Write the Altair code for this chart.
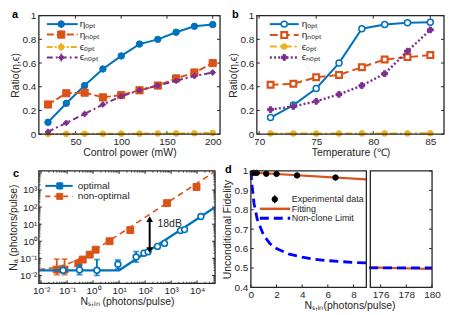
import math
import altair as alt
import pandas as pd

FONT = "Liberation Sans"
INK = "#262626"
BLUE = "#0072BD"
ORANGE = "#D95319"
YELLOW = "#EDB120"
PURPLE = "#7E2F8E"
NCL = "#0000FF"

# ---------------- data ----------------
# panel a
a_power = [20, 40, 60, 80, 100, 120, 140, 160, 180, 200]
a_eta_opt = [0.10, 0.26, 0.41, 0.55, 0.66, 0.76, 0.80, 0.86, 0.91, 0.925]
a_eta_nopt = [0.25, 0.345, 0.35, 0.31, 0.33, 0.37, 0.41, 0.47, 0.52, 0.60]
a_eps_opt = [0.002, 0.002, 0.003, 0.003, 0.004, 0.004, 0.005, 0.006, 0.007, 0.010]
a_eps_nopt = [0.02, 0.095, 0.17, 0.25, 0.32, 0.37, 0.41, 0.45, 0.49, 0.52]
a_xdomain = [10, 208]
a_xticks = [50, 100, 150, 200]

# panel b
b_temp = [71, 73, 75, 77, 79, 81, 83, 85]
b_eta_opt = [0.14, 0.245, 0.385, 0.60, 0.89, 0.925, 0.94, 0.945]
b_eta_nopt = [0.417, 0.425, 0.48, 0.50, 0.565, 0.63, 0.65, 0.667]
b_eps_opt = [0.005, 0.005, 0.005, 0.005, 0.006, 0.006, 0.006, 0.007]
b_eps_nopt = [0.207, 0.234, 0.277, 0.336, 0.41, 0.51, 0.70, 0.88]
b_xdomain = [69.8, 86.2]
b_xticks = [70, 75, 80, 85]

ratio_domain = [0, 1]
ratio_ticks = [0, 0.2, 0.4, 0.6, 0.8, 1.0]
series_labels = ["ηₒₚₜ", "ηₙₒₚₜ", "ϵₒₚₜ", "ϵₙₒₚₜ"]

# panel c
c_opt_x = [0.07, 0.3, 1.4, 9, 45, 90, 130, 300, 560, 2300, 3300, 14000]
c_opt_y = [0.02, 0.021, 0.02, 0.045, 0.12, 0.2, 0.24, 0.5, 0.75, 4.2, 4.8, 28]
c_opt_eb_x = [0.07, 0.3, 1.4, 9, 45]
c_opt_eb_lo = [0.015, 0.011, 0.01, 0.024, 0.06]
c_opt_eb_hi = [0.028, 0.04, 0.085, 0.08, 0.25]
c_opt_fit_x = [0.0082, 10, 49000]
c_opt_fit_y = [0.02, 0.02, 98]
c_nopt_x = [0.04, 0.08, 0.27, 0.4, 0.74, 1.25, 4.3, 27, 700, 9500]
c_nopt_y = [0.022, 0.022, 0.05, 0.085, 0.165, 0.32, 1.0, 4.5, 170, 1500]
c_nopt_eb_x = [0.04, 0.08, 0.27, 0.4]
c_nopt_eb_lo = [0.011, 0.011, 0.04, 0.07]
c_nopt_eb_hi = [0.09, 0.09, 0.065, 0.1]
c_nopt_fit_x = [0.0082, 0.03, 0.1, 0.3, 1, 3, 10, 100, 1000, 10000, 49000]
c_nopt_fit_y = [0.022, 0.028, 0.045, 0.095, 0.27, 0.77, 2.5, 25, 250, 2500, 12300]
c_xdomain = [0.0082, 49000]
c_ydomain = [0.0034, 13000]
c_xticks = [0.01, 0.1, 1, 10, 100, 1000, 10000]
c_xlabels = ["10⁻²", "10⁻¹", "10⁰", "10¹", "10²", "10³", "10⁴"]
c_yticks = [0.01, 0.1, 1, 10, 100, 1000]
c_ylabels = ["10⁻²", "10⁻¹", "10⁰", "10¹", "10²", "10³"]
c_legend = ["optimal", "non-optimal"]
c_arrow_x = [150]
c_arrow_y = [0.3, 20]
c_note = "18dB"
c_note_x = 300
c_note_y = 10.5

# panel d
d_exp_x = [0.2, 0.45, 1.2, 2.0, 3.6, 6.6]
d_exp_y = [0.99, 0.99, 0.986, 0.985, 0.977, 0.966]
d_exp_err = [0.004, 0.004, 0.004, 0.004, 0.005, 0.005]
d_fit_left_x = [0, 9]
d_fit_left_y = [0.992, 0.957]
d_fit_right_x = [175.1, 180]
d_fit_right_y = [0.503, 0.495]
d_ncl_left_x = [0, 0.1, 0.25, 0.5, 1, 1.5, 2, 3, 4, 5, 6, 7, 8, 9]
d_ncl_left_y = [1.0, 0.92, 0.83, 0.75, 0.667, 0.625, 0.6, 0.571, 0.556, 0.545, 0.538, 0.533, 0.529, 0.526]
d_ncl_right_x = [175.1, 180]
d_ncl_right_y = [0.501, 0.501]
d_left_ticks = [0, 2, 4, 6, 8]
d_right_ticks = [176, 178, 180]
d_yticks = [0.4, 0.5, 0.6, 0.7, 0.8, 0.9, 1.0]
d_ydomain = [0.4, 1.0]
d_legend = ["Experimental data", "Fitting", "Non-clone Limit"]

# ---------------- layout ----------------
W_A, W_B, H_1 = 182, 188, 119
W_C, H_C = 177, 113
W_DL, GAP, W_DR, H_D = 116, 4, 62, 117
W_D = W_DL + GAP + W_DR
D_UNIT = W_DL / 9.0
D_VMAX = W_D / D_UNIT
D_OFF = d_right_ticks[-1] - D_VMAX  # virtual = real - D_OFF for right part

ONE = pd.DataFrame({"k": [0]})


def XE(field, scale, axis):
    return alt.X(field, type="quantitative", scale=scale, axis=axis)


def YE(field, scale, axis):
    return alt.Y(field, type="quantitative", scale=scale, axis=axis)


def series(df, xc, yc, xs, ys, xa, ya, color, dash=None, shape=None, size=30, fill=None,
           sw=2.0, psw=1.0, clip=False, line=True):
    base = alt.Chart(df).encode(x=XE(xc, xs, xa), y=YE(yc, ys, ya))
    out = []
    if line:
        lkw = dict(color=color, strokeWidth=sw)
        if dash:
            lkw["strokeDash"] = dash
        if clip:
            lkw["clip"] = True
        out.append(base.mark_line(**lkw))
    if shape:
        pkw = dict(shape=shape, size=size, filled=True, fill=fill or color,
                   stroke=color, strokeWidth=psw, opacity=1)
        if clip:
            pkw["clip"] = True
        out.append(base.mark_point(**pkw))
    return out


def inward(vals, ch, scale, axis, W, H, sides, L=3.0, sw=1.0):
    df = pd.DataFrame({"v": vals})
    out = []
    for side in sides:
        c = alt.Chart(df).mark_rule(color=INK, strokeWidth=sw)
        if ch == "x":
            y0, y1 = (H, H - L) if side == "bottom" else (0, L)
            out.append(c.encode(x=XE("v", scale, axis), y=alt.value(y0), y2=alt.value(y1)))
        else:
            x0, x1 = (0, L) if side == "left" else (W, W - L)
            out.append(c.encode(y=YE("v", scale, axis), x=alt.value(x0), x2=alt.value(x1)))
    return out


def frame(x0, x1, H):
    return alt.Chart(ONE).mark_rect(fill="transparent", stroke=INK, strokeWidth=1.3).encode(
        x=alt.value(x0), x2=alt.value(x1), y=alt.value(0), y2=alt.value(H))


def letter(t, x, y):
    return alt.Chart(ONE).mark_text(text=t, fontWeight="bold", fontSize=11, font=FONT,
                                    align="left", baseline="alphabetic", color="black").encode(
        x=alt.value(x), y=alt.value(y))


def legend_row(label, y, x0, x1, xm, xt, color, dash=None, shape=None, size=30,
               fill=None, sw=2.0, psw=1.0, ebar=0, fs=10):
    out = []
    if x1 > x0:
        rkw = dict(color=color, strokeWidth=sw)
        if dash:
            rkw["strokeDash"] = dash
        out.append(alt.Chart(ONE).mark_rule(**rkw).encode(
            x=alt.value(x0), x2=alt.value(x1), y=alt.value(y)))
    if ebar:
        out.append(alt.Chart(ONE).mark_rule(color=color, strokeWidth=1.3).encode(
            x=alt.value(xm), y=alt.value(y - ebar), y2=alt.value(y + ebar)))
    if shape:
        out.append(alt.Chart(ONE).mark_point(shape=shape, size=size, filled=True,
                                             fill=fill or color, stroke=color,
                                             strokeWidth=psw, opacity=1).encode(
            x=alt.value(xm), y=alt.value(y)))
    out.append(alt.Chart(ONE).mark_text(text=label, align="left", baseline="middle",
                                        fontSize=fs, font=FONT, color=INK).encode(
        x=alt.value(xt), y=alt.value(y)))
    return out


def label_expr(vals, labs):
    parts = [f"abs(log(datum.value)/LN10 - ({math.log10(v):.4f})) < 0.01 ? '{l}'"
             for v, l in zip(vals, labs)]
    return " : ".join(parts) + " : ''"


ratio_scale = alt.Scale(domain=ratio_domain, nice=False, zero=False)
ay_ratio = alt.Axis(values=ratio_ticks, format="~g", title="Ratio(η,ϵ)",
                    labelPadding=3, titlePadding=2)

# ---------------- panel a ----------------
xs_a = alt.Scale(domain=a_xdomain, nice=False, zero=False)
df_a = pd.DataFrame({"p": a_power, "eo": a_eta_opt, "en": a_eta_nopt,
                     "po": a_eps_opt, "pn": a_eps_nopt})
ax_a = alt.Axis(values=a_xticks, title="Control power (mW)", labelPadding=2, titlePadding=1)
a_styles = [
    dict(color=BLUE, shape="circle", size=42),
    dict(color=ORANGE, dash=[7, 3], shape="square", size=52),
    dict(color=YELLOW, dash=[6, 2, 2, 2], shape="circle", size=32),
    dict(color=PURPLE, dash=[6, 3, 2, 3], shape="diamond", size=34),
]
layers_a = []
layers_a += inward(a_xticks, "x", xs_a, ax_a, W_A, H_1, ["bottom", "top"])
layers_a += inward(ratio_ticks, "y", ratio_scale, ay_ratio, W_A, H_1, ["left", "right"])
for i, col in enumerate(["eo", "en", "po", "pn"]):
    layers_a += series(df_a, "p", col, xs_a, ratio_scale, ax_a, ay_ratio, **a_styles[i])
for i, yy in enumerate([8.5, 19, 31.5, 42]):
    st = a_styles[i]
    layers_a += legend_row(series_labels[i], yy, 8, 39, 22.5, 41, st["color"],
                           dash=st.get("dash"), shape=st["shape"], size=st["size"], ebar=4)
layers_a += [frame(0, W_A, H_1), letter("a", -27, 2)]
panel_a = alt.layer(*layers_a).properties(width=W_A, height=H_1)

# ---------------- panel b ----------------
xs_b = alt.Scale(domain=b_xdomain, nice=False, zero=False)
df_b = pd.DataFrame({"t": b_temp, "eo": b_eta_opt, "en": b_eta_nopt,
                     "po": b_eps_opt, "pn": b_eps_nopt})
ax_b = alt.Axis(values=b_xticks, title="Temperature (℃)", labelPadding=2, titlePadding=1)
b_styles = [
    dict(color=BLUE, shape="circle", size=36, fill="white", psw=1.5),
    dict(color=ORANGE, dash=[8, 4], shape="square", size=34, fill="white", psw=2.2),
    dict(color=YELLOW, dash=[7, 3, 2, 3], shape="circle", size=32),
    dict(color=PURPLE, dash=[2, 2.2], shape="cross", size=34, sw=2.4),
]
layers_b = []
layers_b += inward(b_xticks, "x", xs_b, ax_b, W_B, H_1, ["bottom", "top"])
layers_b += inward(ratio_ticks, "y", ratio_scale, ay_ratio, W_B, H_1, ["left", "right"])
for i, col in enumerate(["eo", "en", "po", "pn"]):
    layers_b += series(df_b, "t", col, xs_b, ratio_scale, ax_b, ay_ratio, **b_styles[i])
for i, yy in enumerate([8.5, 19.5, 31, 42]):
    st = b_styles[i]
    layers_b += legend_row(series_labels[i], yy, 13, 42, 27.5, 45, st["color"],
                           dash=st.get("dash"), shape=st["shape"], size=st["size"],
                           fill=st.get("fill"), sw=st.get("sw", 2.0), psw=st.get("psw", 1.0))
layers_b += [frame(0, W_B, H_1), letter("b", -25, 2)]
panel_b = alt.layer(*layers_b).properties(width=W_B, height=H_1)

# ---------------- panel c ----------------
xs_c = alt.Scale(type="log", domain=c_xdomain, nice=False)
ys_c = alt.Scale(type="log", domain=c_ydomain, nice=False)
ax_c = alt.Axis(values=c_xticks, labelExpr=label_expr(c_xticks, c_xlabels),
                title="Nₛ,ᵢₙ (photons/pulse)", labelPadding=2, titlePadding=1)
ay_c = alt.Axis(values=c_yticks, labelExpr=label_expr(c_yticks, c_ylabels),
                title="Nₐ (photons/pulse)", labelPadding=2, titlePadding=1)
minor_x = [m * 10.0 ** e for e in range(-3, 5) for m in range(2, 10)
           if c_xdomain[0] < m * 10.0 ** e < c_xdomain[1]]
minor_y = [m * 10.0 ** e for e in range(-3, 5) for m in range(2, 10)
           if c_ydomain[0] < m * 10.0 ** e < c_ydomain[1]]
df_c_opt = pd.DataFrame({"x": c_opt_x, "y": c_opt_y})
df_c_nopt = pd.DataFrame({"x": c_nopt_x, "y": c_nopt_y})
df_c_opt_fit = pd.DataFrame({"x": c_opt_fit_x, "y": c_opt_fit_y})
df_c_nopt_fit = pd.DataFrame({"x": c_nopt_fit_x, "y": c_nopt_fit_y})
df_c_opt_eb = pd.DataFrame({"x": c_opt_eb_x, "lo": c_opt_eb_lo, "hi": c_opt_eb_hi})
df_c_nopt_eb = pd.DataFrame({"x": c_nopt_eb_x, "lo": c_nopt_eb_lo, "hi": c_nopt_eb_hi})


def ebars(df, color, cap=6):
    base = alt.Chart(df)
    out = [base.mark_rule(color=color, strokeWidth=1.8).encode(
        x=XE("x", xs_c, ax_c), y=YE("lo", ys_c, ay_c), y2="hi:Q")]
    for f in ["lo", "hi"]:
        out.append(base.mark_tick(color=color, orient="horizontal", size=cap, thickness=1.8).encode(
            x=XE("x", xs_c, ax_c), y=YE(f, ys_c, ay_c)))
    return out


layers_c = []
layers_c += inward(c_xticks, "x", xs_c, ax_c, W_C, H_C, ["bottom", "top"])
layers_c += inward(c_yticks, "y", ys_c, ay_c, W_C, H_C, ["left", "right"])
layers_c += inward(minor_x, "x", xs_c, ax_c, W_C, H_C, ["bottom", "top"], L=1.7, sw=0.8)
layers_c += inward(minor_y, "y", ys_c, ay_c, W_C, H_C, ["left", "right"], L=1.7, sw=0.8)
layers_c += series(df_c_nopt_fit, "x", "y", xs_c, ys_c, ax_c, ay_c, ORANGE, dash=[6, 4], sw=1.6,
                   clip=True)
layers_c += ebars(df_c_nopt_eb, ORANGE)
layers_c += series(df_c_nopt, "x", "y", xs_c, ys_c, ax_c, ay_c, ORANGE, shape="square", size=48,
                   line=False)
layers_c += series(df_c_opt_fit, "x", "y", xs_c, ys_c, ax_c, ay_c, BLUE, sw=2.2, clip=True)
layers_c += ebars(df_c_opt_eb, BLUE)
layers_c += series(df_c_opt, "x", "y", xs_c, ys_c, ax_c, ay_c, BLUE, shape="circle", size=34,
                   fill="white", psw=1.6, line=False)
df_arrow = pd.DataFrame({"x": c_arrow_x * 2, "y": c_arrow_y})
layers_c.append(alt.Chart(df_arrow).mark_line(color="black", strokeWidth=2).encode(
    x=XE("x", xs_c, ax_c), y=YE("y", ys_c, ay_c)))
df_head = pd.DataFrame({"x": c_arrow_x * 2, "y": c_arrow_y, "s": ["triangle-down", "triangle-up"]})
layers_c.append(alt.Chart(df_head).mark_point(filled=True, color="black", size=45, opacity=1).encode(
    x=XE("x", xs_c, ax_c), y=YE("y", ys_c, ay_c),
    shape=alt.Shape("s:N", scale=None, legend=None)))
df_note = pd.DataFrame({"x": [c_note_x], "y": [c_note_y], "t": [c_note]})
layers_c.append(alt.Chart(df_note).mark_text(align="left", baseline="middle", fontSize=10.5,
                                             font=FONT, color=INK).encode(
    x=XE("x", xs_c, ax_c), y=YE("y", ys_c, ay_c), text="t:N"))
layers_c += legend_row(c_legend[0], 15, 6.5, 34, 21, 39, BLUE, shape="square", size=36, ebar=4)
layers_c += legend_row(c_legend[1], 25.5, 6.5, 34, 21, 39, ORANGE, dash=[5, 4], shape="square",
                       size=36, sw=1.6)
layers_c += [frame(0, W_C, H_C), letter("c", -26, 6)]
panel_c = alt.layer(*layers_c).properties(width=W_C, height=H_C)

# ---------------- panel d ----------------
xs_d = alt.Scale(domain=[0, D_VMAX + 0.01], nice=False, zero=False)
ys_d = alt.Scale(domain=d_ydomain, nice=False, zero=False)
d_xticks_v = d_left_ticks + [t - D_OFF for t in d_right_ticks]
ax_d = alt.Axis(values=d_xticks_v,
                labelExpr=f"datum.value > 9.05 ? format(datum.value + {D_OFF:.4f}, 'd') : format(datum.value, 'd')",
                title="Nₛ,ᵢₙ(photons/pulse)", titleX=W_D / 2 + 8, labelPadding=2, titlePadding=1)
ay_d = alt.Axis(values=d_yticks, format="~g", title="Unconditional Fidelity",
                labelPadding=3, titlePadding=2)
df_fit_l = pd.DataFrame({"x": d_fit_left_x, "y": d_fit_left_y})
df_fit_r = pd.DataFrame({"x": d_fit_right_x, "y": d_fit_right_y})
df_ncl_l = pd.DataFrame({"x": d_ncl_left_x, "y": d_ncl_left_y})
df_ncl_r = pd.DataFrame({"x": d_ncl_right_x, "y": d_ncl_right_y})
df_exp = pd.DataFrame({"x": d_exp_x, "y": d_exp_y, "e": d_exp_err})


def d_right(df):
    return alt.Chart(df).transform_calculate(xv=f"datum.x - {D_OFF:.4f}")


layers_d = []
layers_d += inward(d_xticks_v, "x", xs_d, ax_d, W_D, H_D, ["bottom"])
layers_d += inward(d_yticks, "y", ys_d, ay_d, W_D, H_D, ["left", "right"])
layers_d += series(df_ncl_l, "x", "y", xs_d, ys_d, ax_d, ay_d, NCL, dash=[9, 5], sw=2.8)
layers_d += series(df_fit_l, "x", "y", xs_d, ys_d, ax_d, ay_d, ORANGE, sw=2.2)
layers_d.append(d_right(df_fit_r).mark_line(color=ORANGE, strokeWidth=2.2).encode(
    x=XE("xv", xs_d, ax_d), y=YE("y", ys_d, ay_d)))
layers_d.append(d_right(df_ncl_r).mark_line(color=NCL, strokeWidth=2.8, strokeDash=[9, 5]).encode(
    x=XE("xv", xs_d, ax_d), y=YE("y", ys_d, ay_d)))
layers_d.append(alt.Chart(df_exp).transform_calculate(lo="datum.y - datum.e", hi="datum.y + datum.e")
                .mark_rule(color="black", strokeWidth=1.2).encode(
    x=XE("x", xs_d, ax_d), y=YE("lo", ys_d, ay_d), y2="hi:Q"))
layers_d += series(df_exp, "x", "y", xs_d, ys_d, ax_d, ay_d, "black", shape="circle", size=30,
                   line=False)
layers_d += legend_row(d_legend[0], 28.5, 0, 0, 24, 41, "black", shape="circle", size=30, ebar=4, fs=9)
layers_d += legend_row(d_legend[1], 38, 9, 39.5, 0, 41, ORANGE, sw=2.4, fs=9)
layers_d += legend_row(d_legend[2], 47.5, 9, 39.5, 0, 41, NCL, dash=[9, 5], sw=2.8, fs=9)
layers_d += [frame(0, W_DL, H_D), frame(W_DL + GAP, W_D, H_D), letter("d", -26, 2)]
panel_d = alt.layer(*layers_d).properties(width=W_D, height=H_D)

row1 = alt.hconcat(panel_a, panel_b, spacing=7)
row2 = alt.hconcat(panel_c, panel_d, spacing=6)
chart = (
    alt.vconcat(row1, row2, spacing=6)
    .properties(padding=0, background="white")
    .configure(font=FONT)
    .configure_view(strokeWidth=0)
    .configure_axis(labelFont=FONT, titleFont=FONT, labelColor=INK, titleColor=INK,
                    titleFontWeight="normal", labelFontSize=10, titleFontSize=10.5,
                    ticks=False, domain=False, grid=False, labelFlush=False,
                    labelOverlap=False)
)
chart.save("out.html", embed_options={"renderer": "svg", "actions": False})
